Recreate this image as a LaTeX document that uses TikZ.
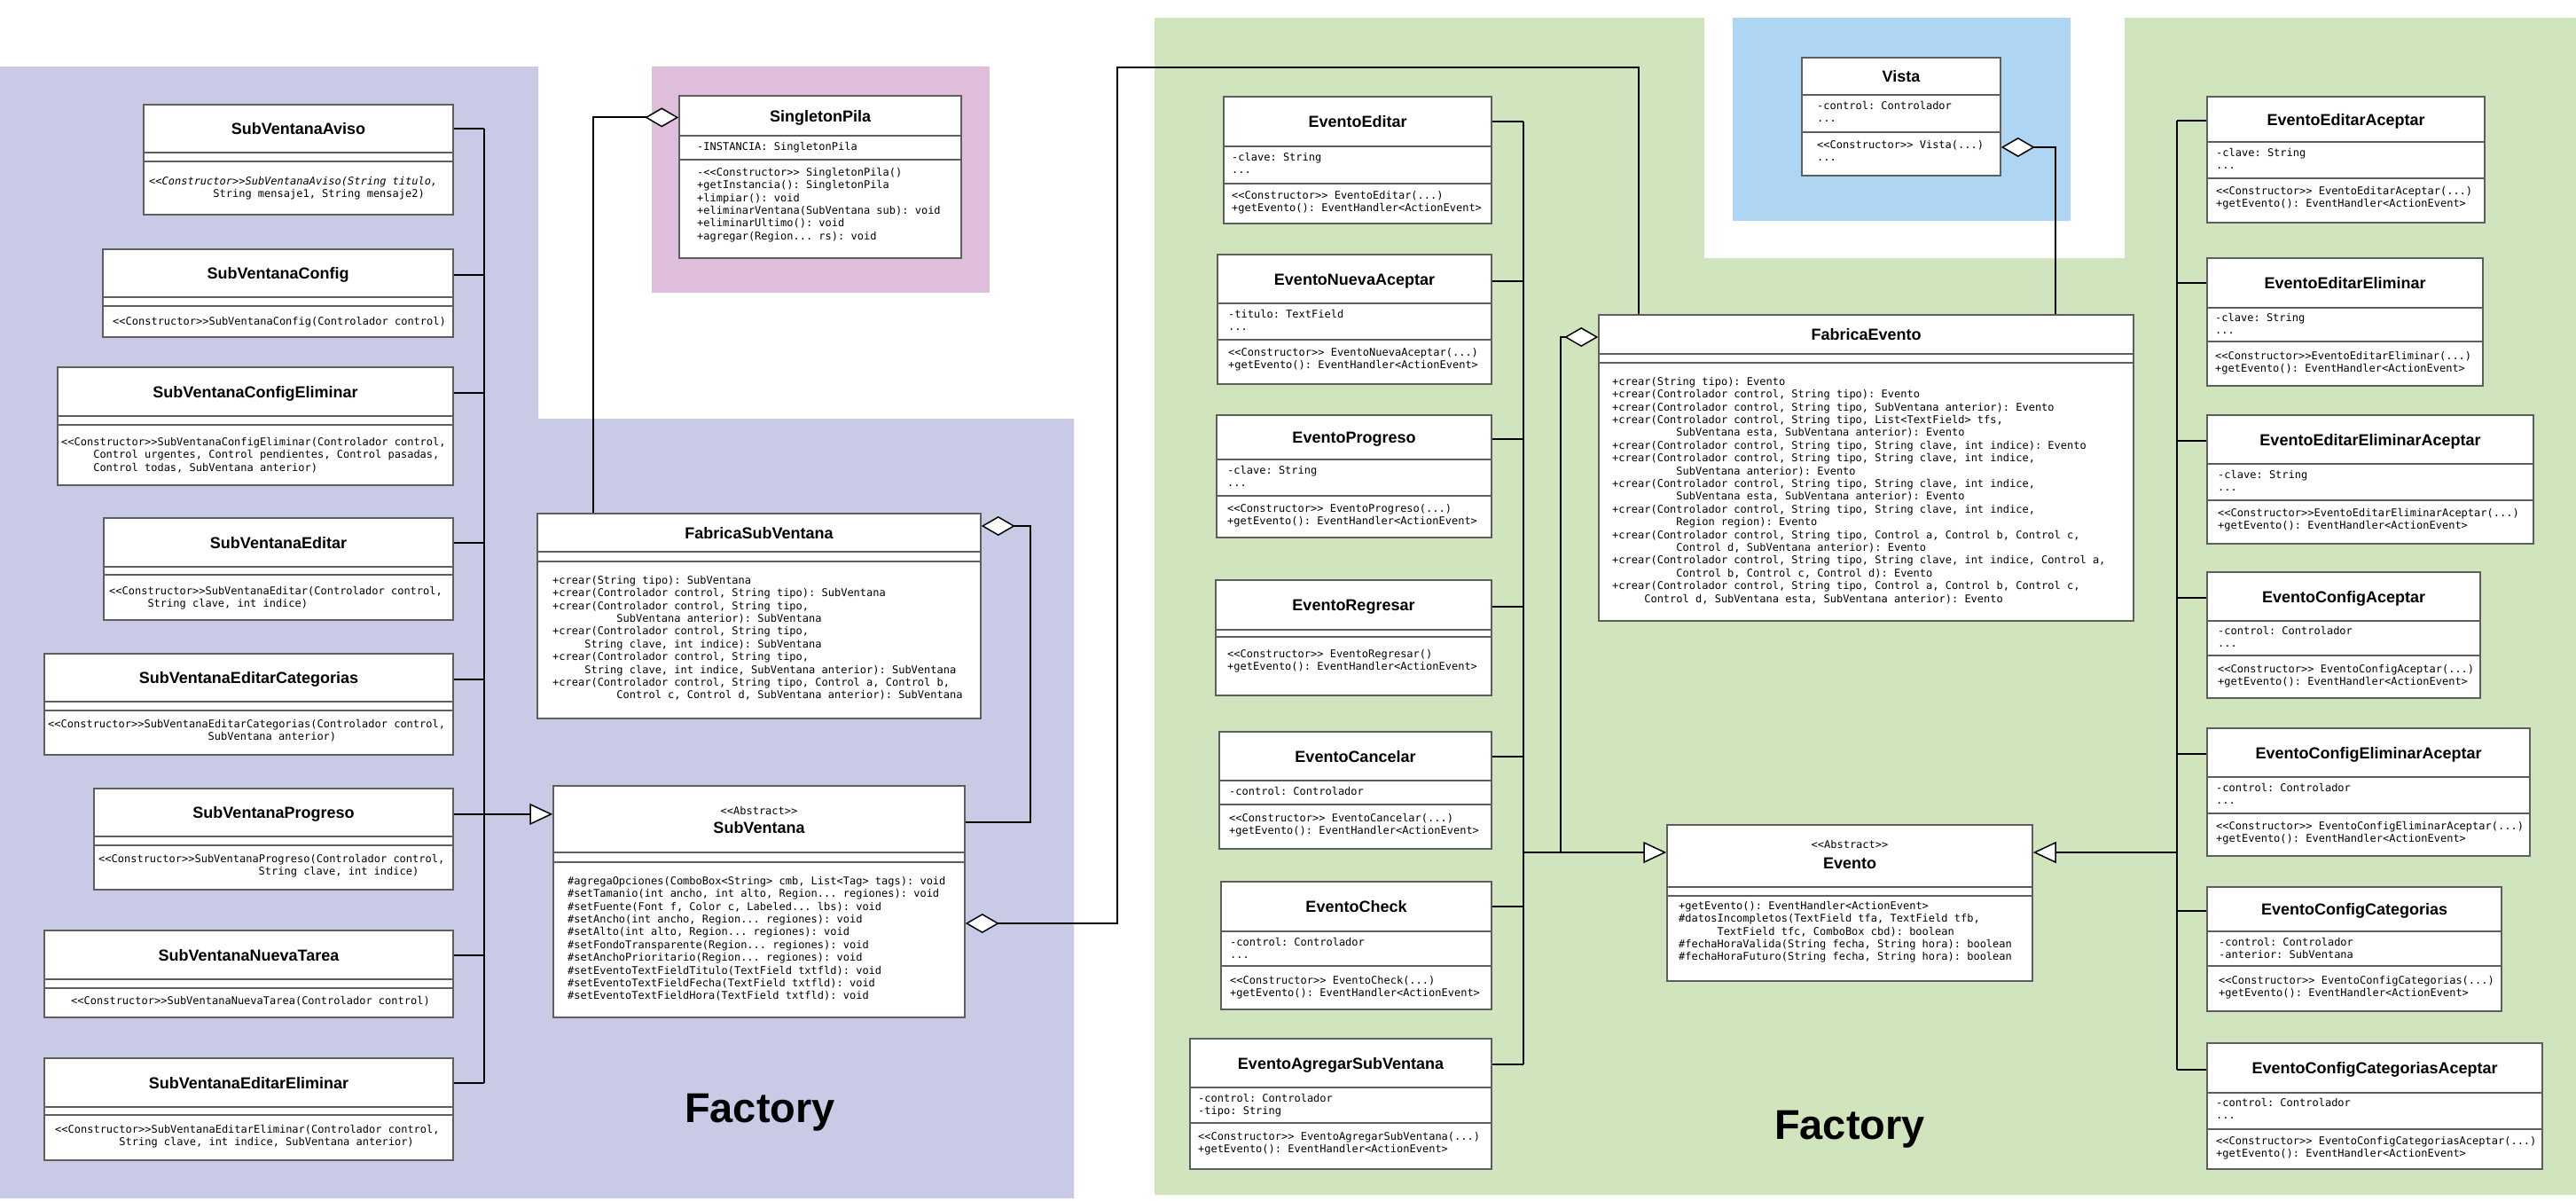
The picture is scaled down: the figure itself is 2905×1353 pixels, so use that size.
\documentclass[tikz,border=0pt]{standalone}
\usepackage{fontspec}
\setmainfont{Liberation Sans}
\setmonofont{DejaVu Sans Mono}
\usetikzlibrary{arrows.meta,fit,calc}
\definecolor{lav}{HTML}{C9CAE6}
\definecolor{pnk}{HTML}{DFBEDB}
\definecolor{grn}{HTML}{D0E5BD}
\definecolor{blu}{HTML}{AED5F1}
\definecolor{bord}{HTML}{5E5E5E}
\newdimen\mwid \mwid=7.22pt
\newcommand\ind[1]{\hspace*{#1\mwid}}
\tikzset{
 clsbox/.style={draw=bord, line width=1.5pt, fill=white, inner sep=0pt},
 sepline/.style={draw=bord, line width=1.5pt},
 ttl/.style={font=\bfseries\fontsize{18}{20}\selectfont, inner sep=0pt, anchor=base},
 mono/.style={font=\ttfamily\fontsize{12}{14.4}\selectfont, inner sep=0pt, anchor=north west, align=left},
 conn/.style={line width=2pt, draw=black},
 aggr/.style={conn, arrows={Diamond[fill=white,length=38pt,width=22pt,line width=1.5pt]-}},
 gen/.style={conn, arrows={-Triangle[fill=white,length=26pt,width=24pt,line width=1.5pt]}},
 factory/.style={font=\bfseries\fontsize{47}{50}\selectfont, inner sep=0pt, anchor=base},
}
% name, x1, y1, x2, y2, sep1, sep2, title
\newcommand\cls[8]{%
 \node[clsbox, fit={(#2,#3) (#4,#5)}] (#1) {};
 \draw[sepline] (#2,#6) -- (#4,#6);
 \draw[sepline] (#2,#7) -- (#4,#7);
 \node[ttl] (#1-t) at ({(#2+#4)/2},{(#3+#6)/2+6.5}) {#8};
}
% name, x, first line centre y, content
\newcommand\bod[4]{\node[mono] (#1) at (#2,{#3-6}) {\rule{0pt}{10pt}#4};}

\begin{document}
\begin{tikzpicture}[x=1pt,y=-1pt]
\useasboundingbox (0,0) rectangle (2905,1353);
\fill[white] (0,0) rectangle (2905,1353);
% panels
\fill[lav] (0,75) -- (607,75) -- (607,472) -- (1211,472) -- (1211,1351) -- (0,1351) -- cycle;
\fill[pnk] (735,75) rectangle (1116,330);
\fill[grn] (1302,20) -- (1922,20) -- (1922,291) -- (2396,291) -- (2396,20) -- (2905,20) -- (2905,1347) -- (1302,1347) -- cycle;
\fill[blu] (1954,20) rectangle (2335,249);

% ---------- left column: SubVentana subclasses
\cls{aviso}{162}{118}{511}{242}{172}{182}{SubVentanaAviso}
\bod{aviso-m}{168}{204}{\itshape <<Constructor>>SubVentanaAviso(String titulo,\\\ind{10}String mensaje1, String mensaje2)}
\cls{config}{116}{281}{511}{380}{335}{345}{SubVentanaConfig}
\bod{config-m}{127}{362}{<<Constructor>>SubVentanaConfig(Controlador control)}
\cls{cfgelim}{65}{414}{511}{547}{469}{479}{SubVentanaConfigEliminar}
\bod{cfgelim-m}{69}{498}{<<Constructor>>SubVentanaConfigEliminar(Controlador control,\\\ind{5}Control urgentes, Control pendientes, Control pasadas,\\\ind{5}Control todas, SubVentana anterior)}
\cls{editar}{117}{584}{511}{699}{639}{648}{SubVentanaEditar}
\bod{editar-m}{123}{666}{<<Constructor>>SubVentanaEditar(Controlador control,\\\ind{6}String clave, int indice)}
\cls{editcat}{50}{737}{511}{851}{791}{801}{SubVentanaEditarCategorias}
\bod{editcat-m}{54}{816}{<<Constructor>>SubVentanaEditarCategorias(Controlador control,\\\ind{25}SubVentana anterior)}
\cls{progreso}{106}{889}{511}{1003}{943}{953}{SubVentanaProgreso}
\bod{progreso-m}{111}{968}{<<Constructor>>SubVentanaProgreso(Controlador control,\\\ind{25}String clave, int indice)}
\cls{nueva}{50}{1049}{511}{1147}{1104}{1114}{SubVentanaNuevaTarea}
\bod{nueva-m}{80}{1128}{<<Constructor>>SubVentanaNuevaTarea(Controlador control)}
\cls{editelim}{50}{1193}{511}{1308}{1248}{1257}{SubVentanaEditarEliminar}
\bod{editelim-m}{62}{1273}{<<Constructor>>SubVentanaEditarEliminar(Controlador control,\\\ind{10}String clave, int indice, SubVentana anterior)}

% ---------- middle
\cls{singleton}{766}{108}{1084}{291}{153}{180}{SingletonPila}
\bod{singleton-a}{786}{165}{-INSTANCIA: SingletonPila}
\bod{singleton-m}{786}{194}{-<<Constructor>> SingletonPila()\\+getInstancia(): SingletonPila\\+limpiar(): void\\+eliminarVentana(SubVentana sub): void\\+eliminarUltimo(): void\\+agregar(Region... rs): void}

\cls{fsv}{606}{579}{1106}{810}{622}{633}{FabricaSubVentana}
\bod{fsv-m}{623}{654}{+crear(String tipo): SubVentana\\+crear(Controlador control, String tipo): SubVentana\\+crear(Controlador control, String tipo,\\\ind{10}SubVentana anterior): SubVentana\\+crear(Controlador control, String tipo,\\\ind{5}String clave, int indice): SubVentana\\+crear(Controlador control, String tipo,\\\ind{5}String clave, int indice, SubVentana anterior): SubVentana\\+crear(Controlador control, String tipo, Control a, Control b,\\\ind{10}Control c, Control d, SubVentana anterior): SubVentana}

\node[clsbox, fit={(624,886) (1088,1147)}] (subv) {};
\draw[sepline] (624,961) -- (1088,961);
\draw[sepline] (624,972) -- (1088,972);
\node[mono, anchor=base] (subv-s) at (856,918) {<<Abstract>>};
\node[ttl] (subv-t) at (856,939.5) {SubVentana};
\bod{subv-m}{640}{993}{\#agregaOpciones(ComboBox<String> cmb, List<Tag> tags): void\\\#setTamanio(int ancho, int alto, Region... regiones): void\\\#setFuente(Font f, Color c, Labeled... lbs): void\\\#setAncho(int ancho, Region... regiones): void\\\#setAlto(int alto, Region... regiones): void\\\#setFondoTransparente(Region... regiones): void\\\#setAnchoPrioritario(Region... regiones): void\\\#setEventoTextFieldTitulo(TextField txtfld): void\\\#setEventoTextFieldFecha(TextField txtfld): void\\\#setEventoTextFieldHora(TextField txtfld): void}

% ---------- events, left column
\cls{eEditar}{1380}{109}{1682}{252}{165}{207}{EventoEditar}
\bod{eEditar-a}{1389}{177}{-clave: String\\...}
\bod{eEditar-m}{1389}{220}{<<Constructor>> EventoEditar(...)\\+getEvento(): EventHandler<ActionEvent>}
\cls{eNueva}{1373}{287}{1682}{433}{342}{383}{EventoNuevaAceptar}
\bod{eNueva-a}{1385}{354}{-titulo: TextField\\...}
\bod{eNueva-m}{1385}{397}{<<Constructor>> EventoNuevaAceptar(...)\\+getEvento(): EventHandler<ActionEvent>}
\cls{eProg}{1372}{468}{1682}{606}{518}{559}{EventoProgreso}
\bod{eProg-a}{1384}{530}{-clave: String\\...}
\bod{eProg-m}{1384}{573}{<<Constructor>> EventoProgreso(...)\\+getEvento(): EventHandler<ActionEvent>}
\cls{eReg}{1371}{654}{1682}{784}{710}{718}{EventoRegresar}
\bod{eReg-m}{1384}{737}{<<Constructor>> EventoRegresar()\\+getEvento(): EventHandler<ActionEvent>}
\cls{eCanc}{1375}{825}{1682}{957}{880}{907}{EventoCancelar}
\bod{eCanc-a}{1386}{892}{-control: Controlador}
\bod{eCanc-m}{1386}{922}{<<Constructor>> EventoCancelar(...)\\+getEvento(): EventHandler<ActionEvent>}
\cls{eCheck}{1377}{994}{1682}{1138}{1050}{1089}{EventoCheck}
\bod{eCheck-a}{1387}{1062}{-control: Controlador\\...}
\bod{eCheck-m}{1387}{1105}{<<Constructor>> EventoCheck(...)\\+getEvento(): EventHandler<ActionEvent>}
\cls{eAgr}{1342}{1171}{1682}{1318}{1226}{1266}{EventoAgregarSubVentana}
\bod{eAgr-a}{1351}{1238}{-control: Controlador\\-tipo: String}
\bod{eAgr-m}{1351}{1281}{<<Constructor>> EventoAgregarSubVentana(...)\\+getEvento(): EventHandler<ActionEvent>}

% ---------- Vista, FabricaEvento, Evento
\cls{vista}{2032}{65}{2256}{198}{107}{149}{Vista}
\bod{vista-a}{2049}{119}{-control: Controlador\\...}
\bod{vista-m}{2049}{163}{<<Constructor>> Vista(...)\\...}

\cls{fe}{1803}{355}{2406}{700}{399}{409}{FabricaEvento}
\bod{fe-m}{1818}{430}{+crear(String tipo): Evento\\+crear(Controlador control, String tipo): Evento\\+crear(Controlador control, String tipo, SubVentana anterior): Evento\\+crear(Controlador control, String tipo, List<TextField> tfs,\\\ind{10}SubVentana esta, SubVentana anterior): Evento\\+crear(Controlador control, String tipo, String clave, int indice): Evento\\+crear(Controlador control, String tipo, String clave, int indice,\\\ind{10}SubVentana anterior): Evento\\+crear(Controlador control, String tipo, String clave, int indice,\\\ind{10}SubVentana esta, SubVentana anterior): Evento\\+crear(Controlador control, String tipo, String clave, int indice,\\\ind{10}Region region): Evento\\+crear(Controlador control, String tipo, Control a, Control b, Control c,\\\ind{10}Control d, SubVentana anterior): Evento\\+crear(Controlador control, String tipo, String clave, int indice, Control a,\\\ind{10}Control b, Control c, Control d): Evento\\+crear(Controlador control, String tipo, Control a, Control b, Control c,\\\ind{5}Control d, SubVentana esta, SubVentana anterior): Evento}

\node[clsbox, fit={(1880,930) (2292,1106)}] (evento) {};
\draw[sepline] (1880,1000) -- (2292,1000);
\draw[sepline] (1880,1010) -- (2292,1010);
\node[mono, anchor=base] (evento-s) at (2086,956) {<<Abstract>>};
\node[ttl] (evento-t) at (2086,979.5) {Evento};
\bod{evento-m}{1893}{1021}{+getEvento(): EventHandler<ActionEvent>\\\#datosIncompletos(TextField tfa, TextField tfb,\\\ind{6}TextField tfc, ComboBox cbd): boolean\\\#fechaHoraValida(String fecha, String hora): boolean\\\#fechaHoraFuturo(String fecha, String hora): boolean}

% ---------- events, right column
\cls{rEA}{2489}{109}{2802}{251}{160}{201}{EventoEditarAceptar}
\bod{rEA-a}{2499}{172}{-clave: String\\...}
\bod{rEA-m}{2499}{215}{<<Constructor>> EventoEditarAceptar(...)\\+getEvento(): EventHandler<ActionEvent>}
\cls{rEE}{2489}{291}{2800}{435}{347}{385}{EventoEditarEliminar}
\bod{rEE-a}{2498}{358}{-clave: String\\...}
\bod{rEE-m}{2498}{401}{<<Constructor>>EventoEditarEliminar(...)\\+getEvento(): EventHandler<ActionEvent>}
\cls{rEEA}{2489}{468}{2857}{613}{523}{564}{EventoEditarEliminarAceptar}
\bod{rEEA-a}{2501}{535}{-clave: String\\...}
\bod{rEEA-m}{2501}{578}{<<Constructor>>EventoEditarEliminarAceptar(...)\\+getEvento(): EventHandler<ActionEvent>}
\cls{rCA}{2489}{645}{2797}{787}{700}{739}{EventoConfigAceptar}
\bod{rCA-a}{2501}{711}{-control: Controlador\\...}
\bod{rCA-m}{2501}{754}{<<Constructor>> EventoConfigAceptar(...)\\+getEvento(): EventHandler<ActionEvent>}
\cls{rCEA}{2489}{821}{2853}{965}{876}{917}{EventoConfigEliminarAceptar}
\bod{rCEA-a}{2499}{888}{-control: Controlador\\...}
\bod{rCEA-m}{2499}{931}{<<Constructor>> EventoConfigEliminarAceptar(...)\\+getEvento(): EventHandler<ActionEvent>}
\cls{rCC}{2489}{1000}{2821}{1140}{1050}{1089}{EventoConfigCategorias}
\bod{rCC-a}{2502}{1062}{-control: Controlador\\-anterior: SubVentana}
\bod{rCC-m}{2502}{1105}{<<Constructor>> EventoConfigCategorias(...)\\+getEvento(): EventHandler<ActionEvent>}
\cls{rCCA}{2489}{1176}{2867}{1318}{1232}{1273}{EventoConfigCategoriasAceptar}
\bod{rCCA-a}{2499}{1243}{-control: Controlador\\...}
\bod{rCCA-m}{2499}{1286}{<<Constructor>> EventoConfigCategoriasAceptar(...)\\+getEvento(): EventHandler<ActionEvent>}

% ---------- connectors
\coordinate (busL) at (546,0);
\foreach \n in {aviso,config,cfgelim,editar,editcat,progreso,nueva,editelim}
  \draw[conn] (\n.east |- \n-t) -- (\n-t -| busL);
\draw[conn] (aviso-t -| busL) -- (editelim-t -| busL);
\draw[gen] (progreso-t -| busL) -- (progreso-t -| subv.west);

\coordinate (k6) at (669,0);
\draw[aggr] (singleton.west |- singleton-t) -- (singleton-t -| k6) -- (k6 |- fsv.north);

\coordinate (k4) at (1162,593);
\coordinate (k5) at (1162,927);
\draw[aggr] (fsv.east |- k4) -- (k4) -- (k5) -- (subv.east |- k5);

\coordinate (k0) at (0,1041);
\coordinate (k1) at (1260,76);
\coordinate (k2) at (1848,76);
\draw[aggr] (subv.east |- k0) -| (k1) -- (k2) -- (k2 |- fe.north);

\coordinate (k3) at (2318,166);
\draw[aggr] (vista.east |- k3) -- (k3) -- (k3 |- fe.north);

\coordinate (kE) at (0,961);
\coordinate (k7) at (1760,380);
\draw[aggr] (fe.west |- k7) -- (k7) -- (k7 |- kE);

\coordinate (busE) at (1718,0);
\foreach \n in {eEditar,eNueva,eProg,eReg,eCanc,eCheck,eAgr}
  \draw[conn] (\n.east |- \n-t) -- (\n-t -| busE);
\draw[conn] (eEditar-t -| busE) -- (eAgr-t -| busE);
\draw[gen] (kE -| busE) -- (evento.west |- kE);

\coordinate (busR) at (2455,0);
\foreach \n in {rEA,rEE,rEEA,rCA,rCEA,rCC,rCCA}
  \draw[conn] (\n-t -| busR) -- (\n.west |- \n-t);
\draw[conn] (rEA-t -| busR) -- (rCCA-t -| busR);
\draw[gen] (kE -| busR) -- (evento.east |- kE);

% ---------- labels
\node[factory] (fac1) at (857,1265) {Factory};
\node[factory] (fac2) at (2086,1284) {Factory};
\end{tikzpicture}
\end{document}
